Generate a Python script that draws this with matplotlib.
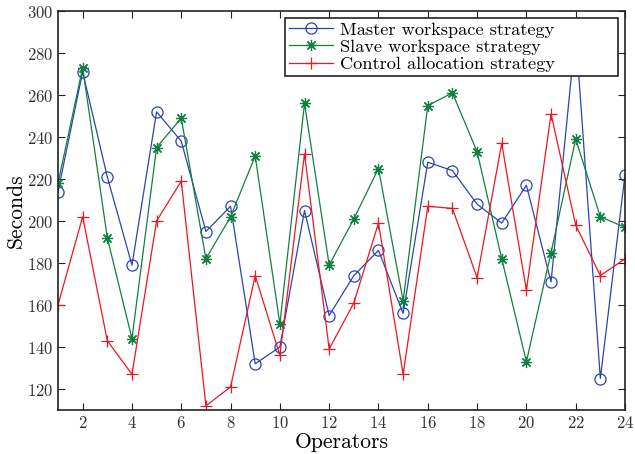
import matplotlib
matplotlib.use("Agg")
import matplotlib.pyplot as plt

plt.rcParams['font.family'] = 'serif'
plt.rcParams['font.serif'] = ['cmr10', 'DejaVu Serif']
plt.rcParams['mathtext.fontset'] = 'cm'
plt.rcParams['axes.formatter.use_mathtext'] = True

operators = list(range(1, 25))
master = [214, 271, 221, 179, 252, 238, 195, 207, 132, 140, 205, 155,
          174, 186, 156, 228, 224, 208, 199, 217, 171, 290, 125, 222]
slave = [218, 273, 192, 144, 235, 249, 182, 202, 231, 151, 256, 179,
         201, 225, 162, 255, 261, 233, 182, 133, 185, 239, 202, 197]
control = [160, 202, 143, 127, 200, 219, 112, 121, 174, 136, 232, 139,
           161, 199, 127, 207, 206, 173, 237, 167, 251, 198, 174, 182]
labels = ['Master workspace strategy', 'Slave workspace strategy',
          'Control allocation strategy']
xticks = list(range(2, 25, 2))
yticks = list(range(120, 301, 20))

fig = plt.figure(figsize=(6.35, 4.54), dpi=100)
ax = fig.add_axes([58/635, 1 - 410/454, (625-58)/635, (410-11)/454])

ax.plot(operators, master, color='#2a45b0', marker='o', markersize=8,
        markerfacecolor='none', markeredgewidth=0.9, linewidth=0.9, label=labels[0])
ax.plot(operators, slave, color='#118040', marker=(8, 2, 0), markersize=8,
        linewidth=0.9, markeredgewidth=0.9, label=labels[1])
ax.plot(operators, control, color='#f01520', marker='+', markersize=9,
        linewidth=0.9, markeredgewidth=0.9, label=labels[2])

ax.set_xlim(1, 24)
ax.set_ylim(110, 300)
ax.set_xticks(xticks)
ax.set_yticks(yticks)
ax.tick_params(direction='in', top=True, right=True, labelsize=12,
               length=5, width=0.8, colors='#222222', labelcolor='#333333')
for s in ax.spines.values():
    s.set_linewidth(1.2)
    s.set_color('#222222')
ax.set_xlabel('Operators', fontsize=15.5, labelpad=1)
ax.set_ylabel('Seconds', fontsize=15.5, labelpad=1)

x0 = (285 - 58) / 567
x1 = (618 - 58) / 567
ytop = (410 - 18) / 399
leg = ax.legend(loc='upper left', bbox_to_anchor=(x0, ytop - 0.2, x1 - x0, 0.2),
                mode='expand', fontsize=13.2,
                frameon=True, fancybox=False, borderpad=0.2, labelspacing=0.08,
                handlelength=2.4, handletextpad=0.4, borderaxespad=0.0)
leg.get_frame().set_edgecolor('#222222')
leg.get_frame().set_linewidth(1.2)
leg.get_frame().set_alpha(1)
leg.set_zorder(10)

fig.savefig('out.png', dpi=100)
